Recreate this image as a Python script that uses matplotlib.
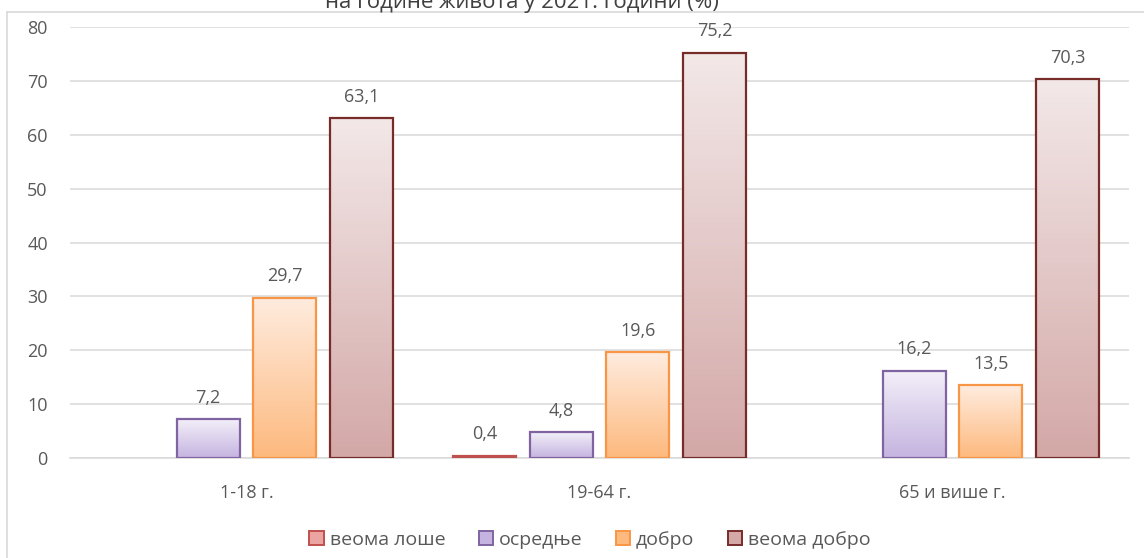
import numpy as np
import matplotlib
matplotlib.use("Agg")
import matplotlib.pyplot as plt
from matplotlib.patches import Patch, Rectangle
from matplotlib.colors import LinearSegmentedColormap
from matplotlib.lines import Line2D

plt.rcParams['font.family'] = ['Open Sans', 'DejaVu Sans']

categories = ["1-18 г.", "19-64 г.", "65 и више г."]
series_names = ["веома лоше", "осредње", "добро", "веома добро"]
vrlo_lose = [np.nan, 0.4, np.nan]
osrednje = [7.2, 4.8, 16.2]
dobro = [29.7, 19.6, 13.5]
vrlo_dobro = [63.1, 75.2, 70.3]
yticks = [0, 10, 20, 30, 40, 50, 60, 70, 80]
title_line = "на године живота у 2021. години (%)"

series = [vrlo_lose, osrednje, dobro, vrlo_dobro]
# (top colour, bottom colour, edge colour)
styles = [
    ("#FBDCDB", "#EBA4A2", "#C0504D"),
    ("#F3EFF9", "#C5B4E0", "#8064A2"),
    ("#FFECDF", "#FDB97E", "#F79646"),
    ("#F3E8E8", "#D3A8A7", "#772C2A"),
]

W, H = 1144, 558
fig = plt.figure(figsize=(W / 100, H / 100), dpi=100)
left, right, bottom, top = 70, 1129, 458, 27
ax = fig.add_axes([left / W, 1 - bottom / H, (right - left) / W, (bottom - top) / H])

text_col = "#595959"
grid_col = "#D9D9D9"

bar_w = 0.178
step = 0.217
x = np.arange(len(categories))

for i, (vals, (ctop, cbot, cedge)) in enumerate(zip(series, styles)):
    cmap = LinearSegmentedColormap.from_list(f"g{i}", [cbot, ctop])
    grad = np.linspace(1, 0, 256).reshape(-1, 1)
    offset = (i - 1.5) * step
    for xi, v in zip(x, vals):
        if np.isnan(v):
            continue
        x0 = xi + offset - bar_w / 2
        ax.imshow(grad, cmap=cmap, extent=[x0, x0 + bar_w, 0, v],
                  aspect="auto", zorder=2, interpolation="bilinear", vmin=0, vmax=1)
        ax.add_patch(Rectangle((x0, 0), bar_w, v, facecolor="none",
                               edgecolor=cedge, linewidth=1.6, zorder=3))
        ax.annotate(f"{v:.1f}".replace(".", ","), (xi + offset, v),
                    xytext=(0, 9), textcoords="offset points",
                    ha="center", va="bottom", fontsize=13, color=text_col)

ax.set_xlim(-0.5, 2.5)
ax.set_ylim(0, 80)
ax.set_yticks(yticks)
ax.set_xticks(x)
ax.set_xticklabels(categories)
ax.tick_params(axis="both", length=0, labelsize=13, labelcolor=text_col)
ax.tick_params(axis="y", pad=16)
ax.tick_params(axis="x", pad=19)
ax.grid(axis="y", color=grid_col, linewidth=1.1, zorder=0)
ax.set_axisbelow(True)
for s in ["top", "right", "left"]:
    ax.spines[s].set_visible(False)
ax.spines["bottom"].set_color(grid_col)
ax.spines["bottom"].set_linewidth(1.1)

# chart-area border (left and top edges)
fig.add_artist(Line2D([7 / W, 7 / W], [0, 1 - 12 / H], transform=fig.transFigure,
                      color=grid_col, linewidth=1.2))
fig.add_artist(Line2D([7 / W, 1], [1 - 12 / H, 1 - 12 / H], transform=fig.transFigure,
                      color=grid_col, linewidth=1.2))

fig.text(522 / W, 1 - 8 / H, title_line, ha="center", va="baseline",
         fontsize=16, color="#404040")

handles = [Patch(facecolor=c[1], edgecolor=c[2], linewidth=1.4) for c in styles]
leg = fig.legend(handles, series_names, loc="center", bbox_to_anchor=(590 / W, 1 - 540 / H),
                 ncol=4, frameon=False, fontsize=14, handlelength=0.75, handleheight=0.75,
                 handletextpad=0.3, columnspacing=1.7)
for t in leg.get_texts():
    t.set_color(text_col)

fig.savefig("out.png", dpi=100)
